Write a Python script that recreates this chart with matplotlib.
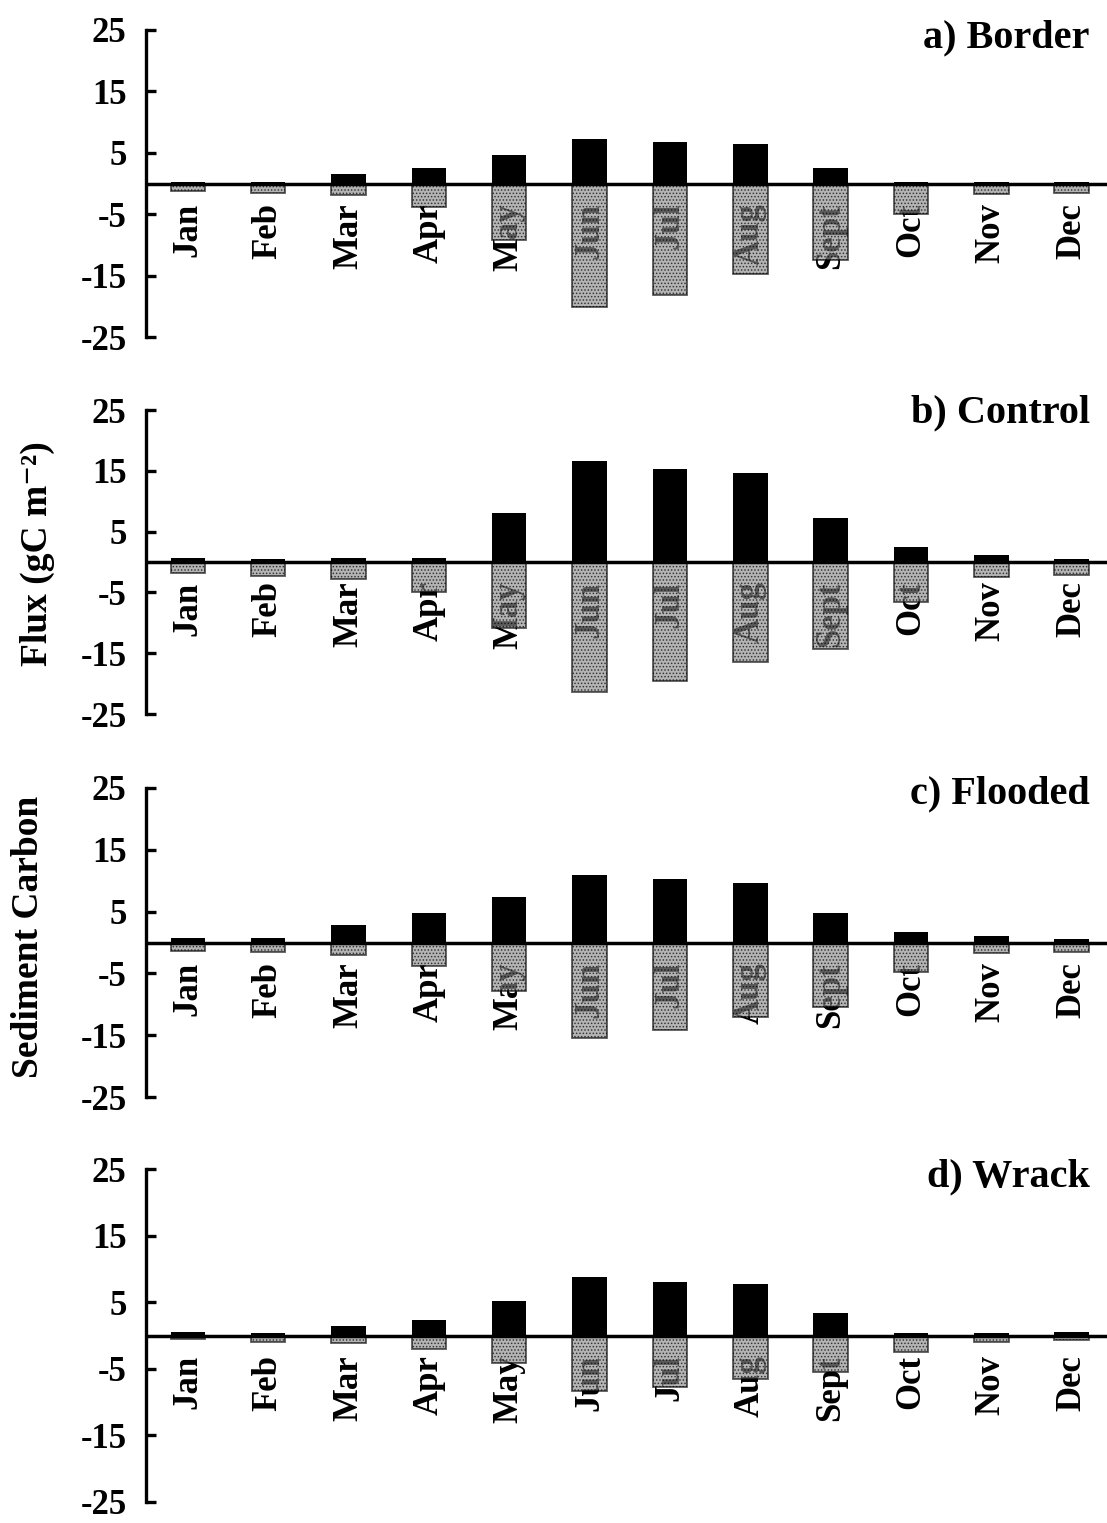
import matplotlib
matplotlib.use('Agg')
import matplotlib.pyplot as plt
import numpy as np

plt.rcParams['font.family'] = ['Liberation Serif', 'DejaVu Serif']
plt.rcParams['font.weight'] = 'bold'
plt.rcParams['axes.unicode_minus'] = False
plt.rcParams['hatch.color'] = '#303030'
plt.rcParams['hatch.linewidth'] = 0.7

months = ['Jan', 'Feb', 'Mar', 'Apr', 'May', 'Jun', 'Jul', 'Aug', 'Sept', 'Oct', 'Nov', 'Dec']
sites = ['a) Border', 'b) Control', 'c) Flooded', 'd) Wrack']

# monthly uptake (positive) and release (negative), gC m-2
border_in = [0.2, 0.3, 1.5, 2.6, 4.6, 7.2, 6.7, 6.4, 2.6, 0.2, 0.2, 0.2]
border_out = [-1.2, -1.5, -1.8, -3.8, -9.2, -20.1, -18.1, -14.8, -12.4, -4.9, -1.7, -1.6]
control_in = [0.7, 0.5, 0.7, 0.7, 8.0, 16.6, 15.3, 14.7, 7.2, 2.4, 1.1, 0.5]
control_out = [-1.8, -2.3, -2.8, -5.0, -10.8, -21.3, -19.5, -16.5, -14.3, -6.6, -2.5, -2.2]
flooded_in = [0.7, 0.8, 2.8, 4.8, 7.4, 10.9, 10.2, 9.7, 4.8, 1.7, 1.0, 0.6]
flooded_out = [-1.4, -1.6, -2.0, -3.8, -7.8, -15.4, -14.2, -12.1, -10.4, -4.7, -1.7, -1.5]
wrack_in = [0.5, 0.4, 1.5, 2.4, 5.2, 8.8, 8.1, 7.8, 3.4, 0.4, 0.4, 0.5]
wrack_out = [-0.6, -1.0, -1.2, -2.1, -4.2, -8.3, -7.7, -6.5, -5.5, -2.5, -1.0, -0.7]

ytick_vals = [-25, -15, -5, 5, 15, 25]
ytick_labels = ['-25', '-15', '-5', '5', '15', '25']

series = [(border_in, border_out), (control_in, control_out),
          (flooded_in, flooded_out), (wrack_in, wrack_out)]

W, H = 1107, 1523
fig = plt.figure(figsize=(W / 100, H / 100), dpi=100)

# panel extents in pixels (top, bottom of the -25..25 axis)
extents = [(30, 337), (410, 714), (788, 1097), (1169, 1502)]
title_dy = [8, 3, 6, 8]
left_px = 146

x = np.arange(len(months))
for k, (site, (vin, vout)) in enumerate(zip(sites, series)):
    top, bot = extents[k]
    ax = fig.add_axes([left_px / W, 1 - bot / H, 1 - left_px / W, (bot - top) / H])
    ax.bar(x, vin, width=0.43, color='black', zorder=2)
    ax.bar(x, vout, width=0.43, facecolor='#8c8c8c', edgecolor='black',
           linewidth=1.3, hatch='.....', alpha=0.65, zorder=2)
    ax.axhline(0, color='black', lw=2.5, zorder=4)
    for i, m in enumerate(months):
        ax.annotate(m, (i, 0), xytext=(0, -14), textcoords='offset points',
                    rotation=90, ha='center', va='top', fontsize=25,
                    fontweight='bold', zorder=1.5)
    ax.set_xlim(-0.52, 11.44)
    ax.set_ylim(-25, 25)
    ax.set_xticks([])
    ax.set_yticks(ytick_vals)
    ax.set_yticklabels(ytick_labels, fontsize=25, fontweight='bold')
    ax.tick_params(axis='y', direction='in', length=7, width=2.4, pad=14)
    for s in ['top', 'right', 'bottom']:
        ax.spines[s].set_visible(False)
    ax.spines['left'].set_linewidth(2.4)
    ax.patch.set_visible(False)
    ax.text(0.982, 1 - title_dy[k] / (bot - top), site, transform=ax.transAxes,
            ha='right', va='center', fontsize=29, fontweight='bold')

fig.text(55 / W, 1 - 554 / H, 'Flux (gC m\u207b\u00b2)', rotation=90,
         ha='right', va='center', fontsize=27, fontweight='bold')
fig.text(46 / W, 1 - 937 / H, 'Sediment Carbon', rotation=90,
         ha='right', va='center', fontsize=27, fontweight='bold')

fig.savefig('out.png', dpi=100, facecolor='white')
